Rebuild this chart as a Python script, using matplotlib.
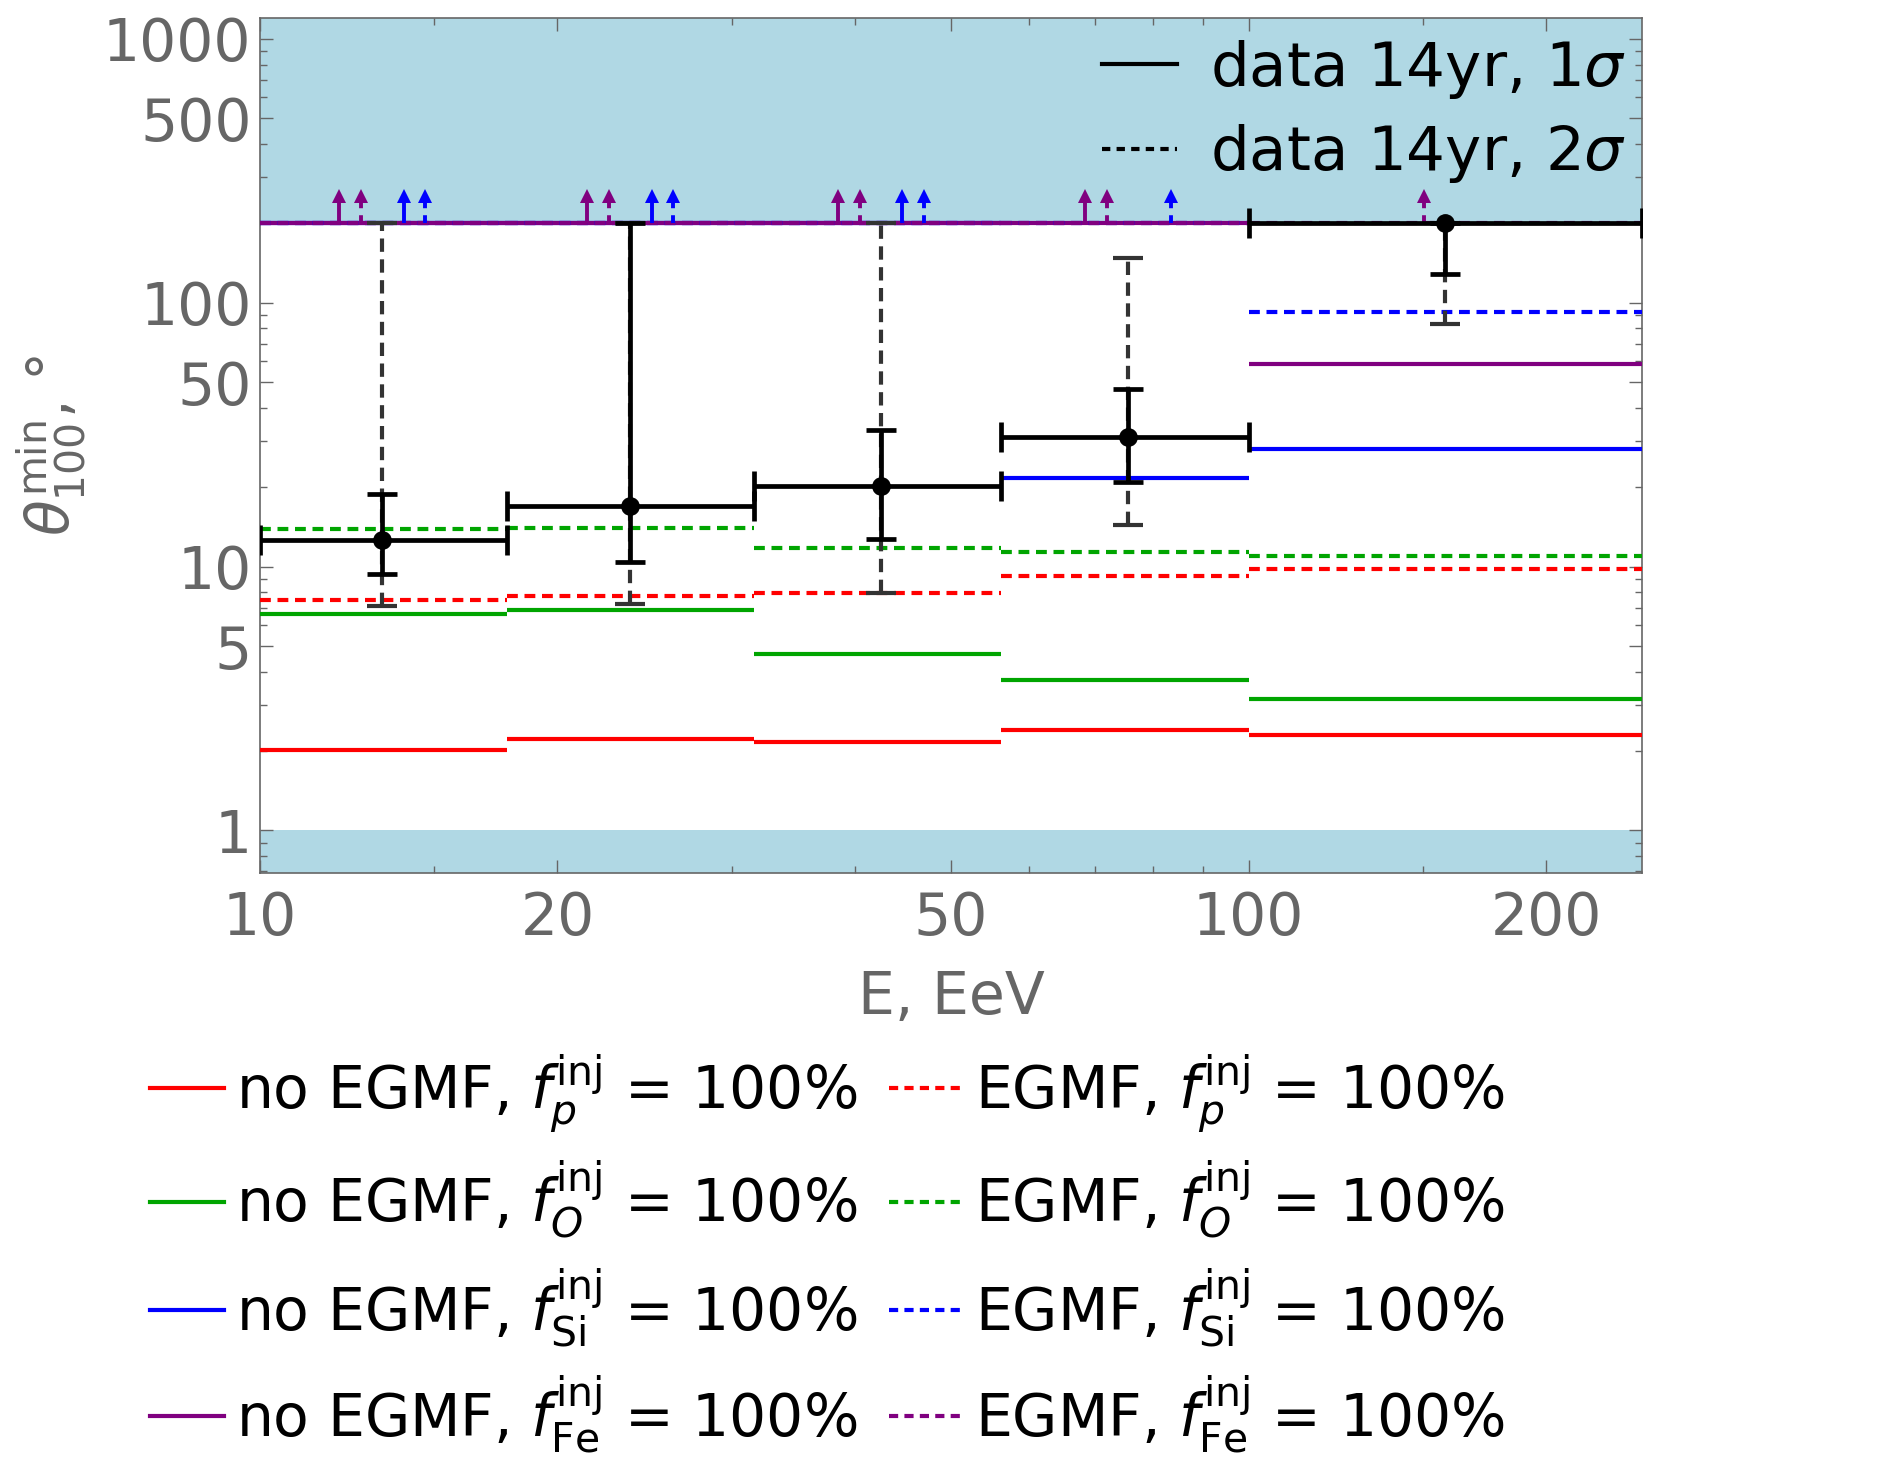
import numpy as np
import matplotlib
matplotlib.use("Agg")
import matplotlib.pyplot as plt
from matplotlib.lines import Line2D
from matplotlib.ticker import FixedLocator, NullFormatter, FuncFormatter, LogLocator

plt.rcParams['font.family'] = ['DejaVu Sans']
plt.rcParams['mathtext.fontset'] = 'dejavusans'

# ---------------- data ----------------
bin_edges = [10, 17.78, 31.62, 56.23, 100, 250]
E_mean = [13.3, 23.7, 42.5, 75.5, 158]
theta = [12.6, 17.0, 20.2, 30.9, 200]
sig1_lo = [9.4, 10.4, 12.7, 20.9, 128.8]
sig1_hi = [18.8, 200, 33.0, 47.2, 200]
sig2_lo = [7.1, 7.2, 7.95, 14.4, 83.2]
sig2_hi = [200, 200, 200, 148, 200]

limit_val = 200  # upper limit of the analysis (values at this level are lower limits)

p_noegmf = [2.02, 2.22, 2.17, 2.41, 2.30]
p_egmf = [7.5, 7.74, 7.95, 9.25, 9.8]
O_noegmf = [6.62, 6.88, 4.67, 3.72, 3.16]
O_egmf = [13.9, 14.0, 11.8, 11.4, 10.98]
Si_noegmf = [200, 200, 200, 21.6, 27.9]
Si_egmf = [200, 200, 200, 200, 91.9]
Fe_noegmf = [200, 200, 200, 200, 58.4]
Fe_egmf = [200, 200, 200, 200, 200]

x_ticks = [10, 20, 50, 100, 200]
x_minor = [15, 30, 40, 60, 70, 80, 90, 150]
y_ticks = [1, 5, 10, 50, 100, 500, 1000]

# ---------------- style ----------------
RED = '#FF0000'
GREEN = '#00A500'
BLUE = '#0000FF'
PURPLE = '#800080'
GRAY = '#666666'
SHADE = '#B0D8E4'
DASH = (0, (2.6, 1.6))
FS = 42
LW = 3.0

fig = plt.figure(figsize=(18.83, 14.68), dpi=100)
ax = fig.add_axes([0.138, 0.4053, 0.734, 0.5824])
ax.set_xscale('log')
ax.set_yscale('log')
ax.set_xlim(10, 250)
ax.set_ylim(0.69, 1200)

# shaded regions
ax.axhspan(limit_val, 1200, color=SHADE, zorder=0, lw=0)
ax.axhspan(0.69, 1, color=SHADE, zorder=0, lw=0)

series = [
    (p_noegmf, RED, '-', r'no EGMF, $f_p^{\rm inj}$ = 100%'),
    (O_noegmf, GREEN, '-', r'no EGMF, $f_O^{\rm inj}$ = 100%'),
    (Si_noegmf, BLUE, '-', r'no EGMF, $f_{\rm Si}^{\rm inj}$ = 100%'),
    (Fe_noegmf, PURPLE, '-', r'no EGMF, $f_{\rm Fe}^{\rm inj}$ = 100%'),
    (p_egmf, RED, DASH, r'EGMF, $f_p^{\rm inj}$ = 100%'),
    (O_egmf, GREEN, DASH, r'EGMF, $f_O^{\rm inj}$ = 100%'),
    (Si_egmf, BLUE, DASH, r'EGMF, $f_{\rm Si}^{\rm inj}$ = 100%'),
    (Fe_egmf, PURPLE, DASH, r'EGMF, $f_{\rm Fe}^{\rm inj}$ = 100%'),
]
draw_order = [0, 4, 1, 5, 2, 6, 3, 7]
for k in draw_order:
    vals, c, ls, lab = series[k]
    ax.hlines(vals, bin_edges[:-1], bin_edges[1:], colors=c, linestyles=[ls], lw=LW,
              zorder=3 + k * 0.1)

# arrows marking lower limits
arrow_sets = [
    (Fe_noegmf, PURPLE, '-', 1 / 1.105),
    (Fe_egmf, PURPLE, (0, (2.0, 1.8)), 1 / 1.051),
    (Si_noegmf, BLUE, '-', 1.051),
    (Si_egmf, BLUE, (0, (2.0, 1.8)), 1.105),
]
for vals, c, ls, fac in arrow_sets:
    for i, v in enumerate(vals):
        if v >= limit_val:
            xa = E_mean[i] * fac
            ax.plot([xa, xa], [limit_val, limit_val * 1.26], color=c, lw=2.8, linestyle=ls,
                    zorder=4, solid_capstyle='butt')
            ax.plot([xa], [limit_val * 1.27], marker='^', color=c, ms=10.5, mew=0, zorder=4)

# data: 2 sigma
y = np.array(theta)
eb2 = ax.errorbar(E_mean, theta,
                  yerr=[y - np.array(sig2_lo), np.array(sig2_hi) - y],
                  fmt='none', ecolor='#333333', elinewidth=3.0, capsize=11, capthick=3.0, zorder=6)
eb2[2][0].set_linestyle((0, (3.2, 1.8)))
# data: 1 sigma
xe = np.array(E_mean)
edges = np.array(bin_edges)
eb1 = ax.errorbar(E_mean, theta,
                  xerr=[xe - edges[:-1], edges[1:] - xe],
                  yerr=[y - np.array(sig1_lo), np.array(sig1_hi) - y],
                  fmt='o', color='black', ms=12.5, elinewidth=3.4, capsize=11, capthick=3.4, zorder=7)

# ticks
ax.xaxis.set_major_locator(FixedLocator(x_ticks))
ax.xaxis.set_minor_locator(FixedLocator(x_minor))
ax.xaxis.set_major_formatter(FuncFormatter(lambda v, p: f"{v:g}"))
ax.xaxis.set_minor_formatter(NullFormatter())
ax.yaxis.set_major_locator(FixedLocator(y_ticks))
ax.yaxis.set_minor_locator(LogLocator(base=10, subs=np.arange(2, 10)))
ax.yaxis.set_major_formatter(FuncFormatter(lambda v, p: f"{v:g}"))
ax.yaxis.set_minor_formatter(NullFormatter())
ax.tick_params(which='both', direction='in', top=True, right=True, color=GRAY, width=1.0,
               labelcolor=GRAY, labelsize=FS)
ax.tick_params(which='major', length=9.5)
ax.tick_params(which='minor', length=5)
ax.tick_params(axis='x', pad=12)
ax.tick_params(axis='y', pad=6)
for s in ax.spines.values():
    s.set_color(GRAY)
    s.set_linewidth(1.2)

ax.set_xlabel('E, EeV', fontsize=FS, color=GRAY, labelpad=16)
ax.set_ylabel(r'$\theta_{100}^{\rm min}$, °', fontsize=FS, color=GRAY, labelpad=10)

# data legend
h1 = Line2D([], [], color='black', lw=3)
h2 = Line2D([], [], color='black', lw=3, linestyle=(0, (2.0, 1.5)))
ax.legend([h1, h2], [r'data 14yr, 1$\sigma$', r'data 14yr, 2$\sigma$'],
          loc='upper right', bbox_to_anchor=(1.0, 0.995), frameon=False, fontsize=44,
          handlelength=1.23, handletextpad=0.54, labelspacing=0.35, borderaxespad=0.0,
          borderpad=0.25)

# models legend
mh = [Line2D([], [], color=c, lw=LW, linestyle=(ls if ls == '-' else (0, (2.2, 1.5))))
      for (_, c, ls, _) in series]
ml = [lab for (_, _, _, lab) in series]
fig.legend(mh, ml, ncol=2, loc='upper left', bbox_to_anchor=(150 / 1883, 1 - 1052 / 1468),
           frameon=False, fontsize=FS, handlelength=1.27, handletextpad=0.2,
           columnspacing=0.55, labelspacing=0.42, borderaxespad=0.0, borderpad=0.0)

fig.savefig('out.png', dpi=100)
